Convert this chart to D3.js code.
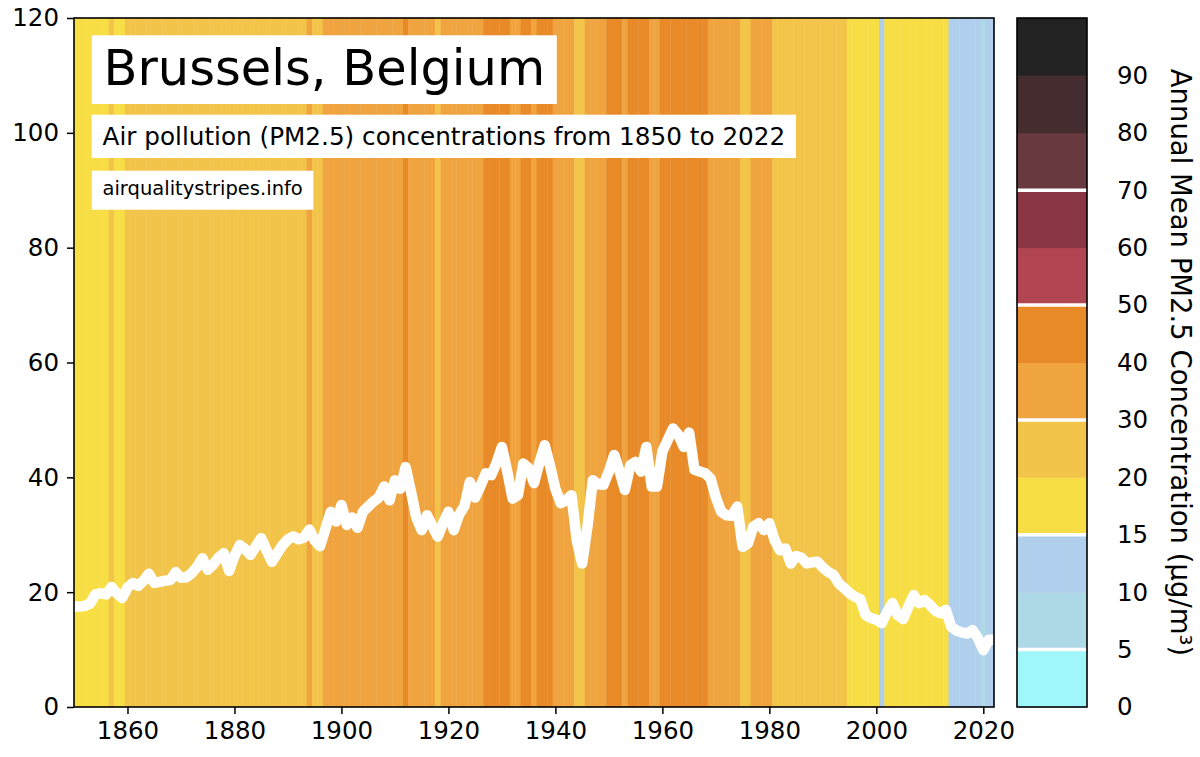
<!DOCTYPE html>
<html>
<head>
<meta charset="utf-8">
<script src="https://cdnjs.cloudflare.com/ajax/libs/d3/7.8.5/d3.min.js"></script>
<style>
    body { margin: 0; background: #ffffff; }
    svg text { font-family: "DejaVu Sans", sans-serif; fill: #000; }
</style>
</head>
<body>
<div id="chart"></div>
<script>
// annual mean PM2.5, Brussels, one value per year from firstYear on
var firstYear = 1850,
    lastYear = 2022

var pm25 = [
    17.5, 17.5, 17.6, 18.0, 19.6, 19.8, 19.6, 20.9, 19.8, 19.0,   // 1850s
    20.8, 21.6, 21.1, 22.0, 23.2, 21.6, 21.8, 22.0, 22.1, 23.5,   // 1860s
    22.5, 22.6, 23.3, 24.4, 25.9, 23.9, 24.8, 26.0, 26.8, 23.7,   // 1870s
    26.3, 28.2, 27.5, 26.5, 28.0, 29.4, 27.3, 25.3, 26.8, 28.2,   // 1880s
    29.2, 29.7, 29.2, 29.5, 30.9, 29.0, 28.0, 31.0, 34.0, 32.3,   // 1890s
    35.2, 31.7, 33.0, 31.2, 34.0, 34.9, 35.8, 36.5, 38.4, 36.0,   // 1900s
    39.5, 38.0, 41.8, 37.5, 33.0, 30.8, 33.4, 31.5, 29.7, 32.0,   // 1910s
    34.0, 30.8, 33.5, 35.0, 39.2, 36.5, 38.5, 40.7, 40.4, 42.5,   // 1920s
    45.3, 41.0, 36.3, 36.9, 42.4, 41.6, 39.0, 42.5, 45.6, 42.0,   // 1930s
    38.0, 35.5, 36.0, 36.9, 29.0, 25.0, 31.5, 39.5, 38.8, 38.7,   // 1940s
    41.0, 43.9, 41.0, 37.8, 42.1, 42.7, 41.0, 45.3, 38.4, 38.4,   // 1950s
    44.5, 46.5, 48.5, 47.4, 45.3, 47.8, 41.3, 41.0, 40.7, 39.8,   // 1960s
    36.5, 34.0, 33.4, 33.3, 34.9, 27.9, 28.5, 31.4, 32.0, 30.8,   // 1970s
    32.0, 29.0, 27.3, 27.6, 25.0, 26.3, 26.0, 25.0, 25.2, 25.3,   // 1980s
    24.3, 23.5, 23.0, 21.5, 20.7, 19.8, 19.2, 18.8, 16.0, 15.5,   // 1990s
    15.2, 14.6, 16.5, 18.1, 16.0, 15.3, 17.5, 19.5, 18.1, 18.6,   // 2000s
    17.8, 16.8, 16.3, 16.9, 14.0, 13.3, 13.0, 12.8, 13.4, 12.0,   // 2010s
    9.9, 11.7, 11.7                                               // 2020s
]

var yTicks = [0, 20, 40, 60, 80, 100, 120]
var xTicks = [1860, 1880, 1900, 1920, 1940, 1960, 1980, 2000, 2020]

// colour classes of the stripes / colour bar
var binEdges = [0, 5, 10, 15, 20, 30, 40, 50, 60, 70, 80, 90, 100]
var binColors = ["#9ff7fa", "#add8e6", "#b0cfec", "#f8de45", "#f2c54a", "#f0a43f",
                 "#e88a27", "#b14552", "#8b3645", "#68393e", "#452c2f", "#222222"]
var guideEdges = [5, 15, 30, 50, 70]

var titleText = "Brussels, Belgium",
    subtitleText = "Air pollution (PM2.5) concentrations from 1850 to 2022",
    sourceText = "airqualitystripes.info",
    cbarLabel = "Annual Mean PM2.5 Concentration (\u03bcg/m\u00b3)"


var W = 1200, H = 757
var margin = { left: 74, top: 18, right: 206, bottom: 50 }
var width = 920, height = 689
var tickFont = 24.5

var svg = d3.select("#chart")
    .append("svg")
        .attr("width", W)
        .attr("height", H)

var data = pm25.map(function(v, i){ return { year: firstYear + i, val: v } })

var x = d3.scaleLinear()
    .domain([firstYear, lastYear])
    .range([0, width])

var y = d3.scaleLinear()
    .domain([0, 120])
    .range([height, 0])

function binOf(v){
    var i = d3.bisectRight(binEdges, v) - 1
    return Math.max(0, Math.min(binColors.length - 1, i))
}

var chart = svg.append("g")
    .attr("transform", "translate(" + margin.left + "," + margin.top + ")")

chart.append("clipPath")
    .attr("id", "plot-clip")
    .append("rect")
        .attr("width", width)
        .attr("height", height)

var plot = chart.append("g")
    .attr("clip-path", "url(#plot-clip)")

// stripes, one per year, centred on the year
plot.selectAll(".stripe")
    .data(data)
    .enter()
    .append("rect")
        .attr("class", "stripe")
        .attr("x", d => x(d.year - 0.5))
        .attr("width", d => x(d.year + 0.5) - x(d.year - 0.5) + 0.4)
        .attr("y", 0)
        .attr("height", height)
        .attr("fill", d => binColors[binOf(d.val)])

plot.append("path")
    .datum(data)
    .attr("fill", "none")
    .attr("stroke", "#ffffff")
    .attr("stroke-width", 10.5)
    .attr("stroke-linejoin", "round")
    .attr("stroke-linecap", "round")
    .attr("d", d3.line()
        .x(d => x(d.year))
        .y(d => y(d.val))
    )

// axes
var yAxis = chart.append("g")
    .attr("class", "axis axis--y")
    .call(d3.axisLeft(y).tickValues(yTicks).tickSize(7).tickPadding(8))

var xAxis = chart.append("g")
    .attr("class", "axis axis--x")
    .attr("transform", "translate(0," + height + ")")
    .call(d3.axisBottom(x).tickValues(xTicks).tickFormat(d3.format("d")).tickSize(7).tickPadding(8))

chart.selectAll(".axis .domain").remove()
chart.selectAll(".axis .tick line")
    .attr("stroke", "#000")
    .attr("stroke-width", 1.5)
chart.selectAll(".axis text")
    .attr("font-size", tickFont)
    .attr("fill", "#000")

chart.append("rect")
    .attr("width", width)
    .attr("height", height)
    .attr("fill", "none")
    .attr("stroke", "#000")
    .attr("stroke-width", 1.6)

// text boxes top left
function labelBox(txt, fontSize, tx, baseline, boxTop, boxHeight, pad){
    var g = chart.append("g")
    var rect = g.append("rect").attr("fill", "#fff")
    var t = g.append("text")
        .attr("x", tx)
        .attr("y", baseline)
        .attr("font-size", fontSize)
        .text(txt)
    var len = t.node().getComputedTextLength()
    rect.attr("x", tx - pad)
        .attr("y", boxTop)
        .attr("width", len + pad * 2)
        .attr("height", boxHeight)
}

labelBox(titleText, 49.5, 29.5, 66.5, 17.3, 68.7, 11.6)
labelBox(subtitleText, 24.7, 28.5, 126.5, 96.7, 43.3, 10.8)
labelBox(sourceText, 19.5, 28.5, 176.7, 152.7, 39, 10.6)

// colour bar
var cbX = 1017, cbW = 70

var cb = svg.append("g")
    .attr("transform", "translate(" + cbX + "," + margin.top + ")")

var cbScale = d3.scaleLinear()
    .domain([0, binEdges.length - 1])
    .range([height, 0])

cb.selectAll(".cb-bin")
    .data(binColors)
    .enter()
    .append("rect")
        .attr("class", "cb-bin")
        .attr("x", 0)
        .attr("width", cbW)
        .attr("y", (d, i) => cbScale(i + 1))
        .attr("height", (d, i) => cbScale(i) - cbScale(i + 1) + 0.5)
        .attr("fill", d => d)

cb.selectAll(".cb-guide")
    .data(guideEdges)
    .enter()
    .append("line")
        .attr("class", "cb-guide")
        .attr("x1", 0)
        .attr("x2", cbW)
        .attr("y1", d => cbScale(binEdges.indexOf(d)))
        .attr("y2", d => cbScale(binEdges.indexOf(d)))
        .attr("stroke", "#fff")
        .attr("stroke-width", 3.5)

cb.append("rect")
    .attr("width", cbW)
    .attr("height", height)
    .attr("fill", "none")
    .attr("stroke", "#000")
    .attr("stroke-width", 1.6)

var cbAxis = cb.append("g")
    .attr("class", "cb-axis")
    .attr("transform", "translate(" + cbW + ",0)")
    .call(d3.axisRight(cbScale)
        .tickValues(d3.range(binEdges.length - 1))
        .tickFormat(i => binEdges[i])
        .tickSize(0)
        .tickPadding(30))

cbAxis.select(".domain").remove()
cbAxis.selectAll("text")
    .attr("font-size", tickFont)
    .attr("fill", "#000")

cb.append("text")
    .attr("transform", "translate(" + (cbW + 84) + "," + (height / 2) + ") rotate(90)")
    .attr("text-anchor", "middle")
    .attr("font-size", 27.5)
    .text(cbarLabel)
</script>
</body>
</html>
